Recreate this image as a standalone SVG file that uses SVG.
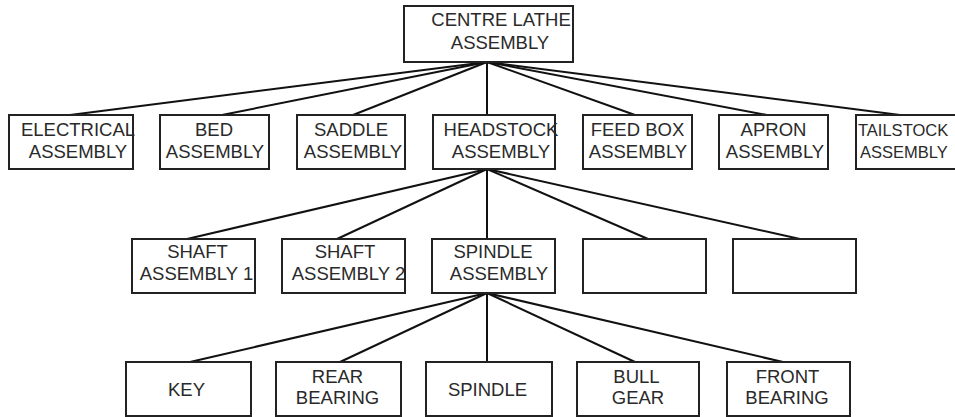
<svg xmlns="http://www.w3.org/2000/svg" width="955" height="417" viewBox="0 0 955 417">
  <style>
    .box { fill: #fff; stroke: #222; stroke-width: 2; }
    .lbl { font-family: "Liberation Sans", Arial, sans-serif; font-size: 18.5px; fill: #2a2a2a; text-anchor: middle; }
    .lbl-edge { text-anchor: start; font-size: 16.5px; }
    #connectors line { stroke: #111; stroke-width: 2; }
  </style>
  <rect width="955" height="417" fill="#fff"/>

  <!-- tree connectors -->
  <g id="connectors">
    <!-- lathe to main assemblies -->
    <line x1="487" y1="62" x2="70" y2="115"/>
    <line x1="487" y1="62" x2="222" y2="115"/>
    <line x1="487" y1="62" x2="353" y2="115"/>
    <line x1="487" y1="62" x2="487" y2="115"/>
    <line x1="487" y1="62" x2="635" y2="115"/>
    <line x1="487" y1="62" x2="767" y2="115"/>
    <line x1="487" y1="62" x2="900" y2="115"/>
    <!-- headstock to sub-assemblies -->
    <line x1="487" y1="169" x2="187" y2="239"/>
    <line x1="487" y1="169" x2="337" y2="239"/>
    <line x1="487" y1="169" x2="487" y2="239"/>
    <line x1="487" y1="169" x2="648" y2="239"/>
    <line x1="487" y1="169" x2="800" y2="239"/>
    <!-- spindle assembly to parts -->
    <line x1="487" y1="293" x2="190" y2="362"/>
    <line x1="487" y1="293" x2="340" y2="362"/>
    <line x1="487" y1="293" x2="487" y2="362"/>
    <line x1="487" y1="293" x2="635" y2="362"/>
    <line x1="487" y1="293" x2="783" y2="362"/>
  </g>

  <!-- level 0 -->
  <g id="centre-lathe">
    <rect class="box" x="404" y="6" width="169" height="56"/>
    <text class="lbl" x="501" y="26">CENTRE LATHE</text>
    <text class="lbl" x="500" y="49">ASSEMBLY</text>
  </g>

  <!-- level 1 -->
  <g id="electrical">
    <rect class="box" x="9" y="115" width="124" height="54"/>
    <text class="lbl" x="78" y="136">ELECTRICAL</text>
    <text class="lbl" x="78" y="158">ASSEMBLY</text>
  </g>
  <g id="bed">
    <rect class="box" x="160" y="115" width="109" height="54"/>
    <text class="lbl" x="214" y="136">BED</text>
    <text class="lbl" x="215" y="158">ASSEMBLY</text>
  </g>
  <g id="saddle">
    <rect class="box" x="297" y="115" width="108" height="54"/>
    <text class="lbl" x="351" y="136">SADDLE</text>
    <text class="lbl" x="353" y="158">ASSEMBLY</text>
  </g>
  <g id="headstock">
    <rect class="box" x="433" y="115" width="122" height="54"/>
    <text class="lbl" x="501" y="136">HEADSTOCK</text>
    <text class="lbl" x="501" y="158">ASSEMBLY</text>
  </g>
  <g id="feed-box">
    <rect class="box" x="583" y="115" width="109" height="54"/>
    <text class="lbl" x="637.5" y="136">FEED BOX</text>
    <text class="lbl" x="638" y="158">ASSEMBLY</text>
  </g>
  <g id="apron">
    <rect class="box" x="719" y="115" width="109" height="54"/>
    <text class="lbl" x="773.5" y="136">APRON</text>
    <text class="lbl" x="775" y="158">ASSEMBLY</text>
  </g>
  <g id="tailstock">
    <rect class="box" x="856" y="115" width="112" height="54"/>
    <text class="lbl lbl-edge" x="858" y="136">TAILSTOCK</text>
    <text class="lbl lbl-edge" x="860" y="158">ASSEMBLY</text>
  </g>

  <!-- level 2 -->
  <g id="shaft-1">
    <rect class="box" x="132" y="239" width="123" height="54"/>
    <text class="lbl" x="197.5" y="258">SHAFT</text>
    <text class="lbl" x="196.5" y="280">ASSEMBLY 1</text>
  </g>
  <g id="shaft-2">
    <rect class="box" x="282" y="239" width="123" height="54"/>
    <text class="lbl" x="345" y="258">SHAFT</text>
    <text class="lbl" x="348.5" y="280">ASSEMBLY 2</text>
  </g>
  <g id="spindle-assembly">
    <rect class="box" x="432" y="239" width="123" height="54"/>
    <text class="lbl" x="493" y="258">SPINDLE</text>
    <text class="lbl" x="499" y="280">ASSEMBLY</text>
  </g>
  <g id="blank-1">
    <rect class="box" x="583" y="239" width="123" height="54"/>
  </g>
  <g id="blank-2">
    <rect class="box" x="733" y="239" width="123" height="54"/>
  </g>

  <!-- level 3 -->
  <g id="key">
    <rect class="box" x="126" y="362" width="125" height="54"/>
    <text class="lbl" x="186.5" y="396">KEY</text>
  </g>
  <g id="rear-bearing">
    <rect class="box" x="276" y="362" width="125" height="54"/>
    <text class="lbl" x="337.5" y="383">REAR</text>
    <text class="lbl" x="337.5" y="404">BEARING</text>
  </g>
  <g id="spindle">
    <rect class="box" x="426" y="362" width="126" height="54"/>
    <text class="lbl" x="487.5" y="396">SPINDLE</text>
  </g>
  <g id="bull-gear">
    <rect class="box" x="577" y="362" width="122" height="54"/>
    <text class="lbl" x="636.5" y="383">BULL</text>
    <text class="lbl" x="638" y="404">GEAR</text>
  </g>
  <g id="front-bearing">
    <rect class="box" x="727" y="362" width="123" height="54"/>
    <text class="lbl" x="787.5" y="383">FRONT</text>
    <text class="lbl" x="787" y="404">BEARING</text>
  </g>
</svg>
